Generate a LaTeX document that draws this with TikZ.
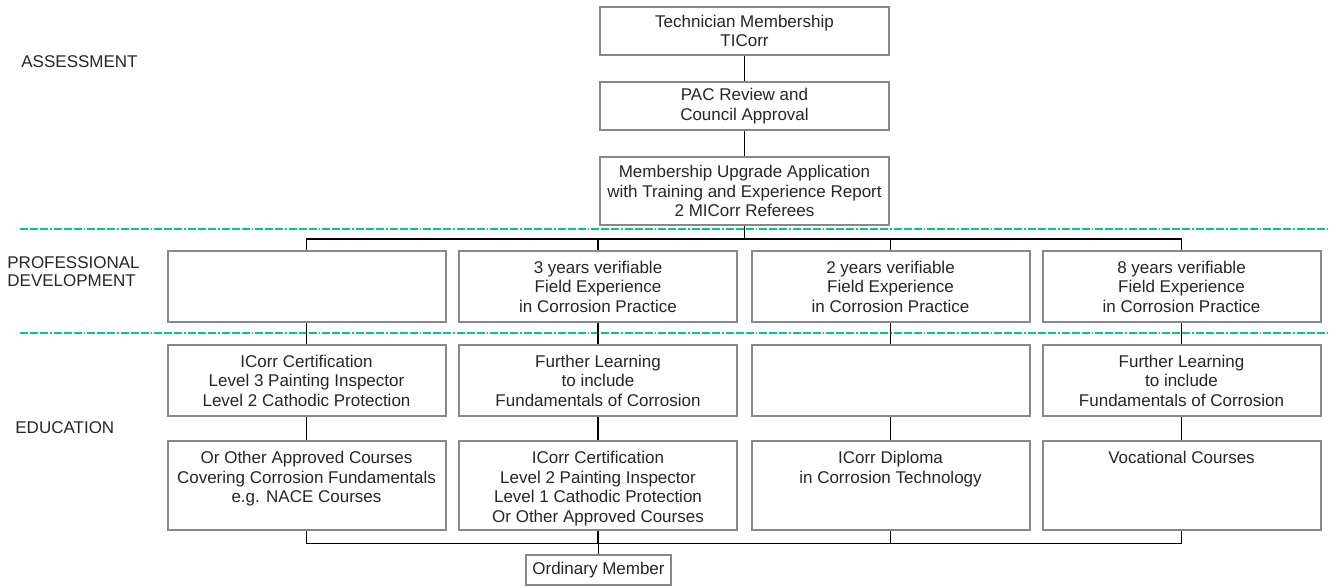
\documentclass[tikz,border=0pt]{standalone}
\usepackage{fontspec}
\setmainfont{Liberation Sans}
\usetikzlibrary{positioning}
\definecolor{sepgreen}{RGB}{0,200,140}
\definecolor{boxgray}{RGB}{136,136,136}

\begin{document}
\begin{tikzpicture}[x=0.5pt, y=-0.5pt,
		every node/.style={font=\fontsize{8.5}{9.75}\selectfont, text=black!85},
		box/.style={draw=boxgray, line width=1pt, fill=white, align=center, inner sep=0pt, minimum width=139pt},
		topbox/.style={box, minimum width=144.5pt, minimum height=24pt},
		colbox/.style={box, minimum height=35.5pt},
		lowbox/.style={box, minimum height=44.5pt},
		lowtext/.style={anchor=north, align=center, inner sep=0pt, yshift=-5.5pt},
		level/.style={anchor=west, align=left, inner sep=0pt, font=\fontsize{8.5}{8.7}\selectfont},
		conn/.style={draw=black, line width=0.6pt},
		sep/.style={draw=sepgreen, line width=0.6pt, dash pattern=on 4pt off 1pt on 4pt off 1pt on 4pt off 1pt on 0.8pt off 1pt}]
	\useasboundingbox (0, 0) rectangle (1329, 587);

	% levels
	\node[level] (lass) at (21, 62) {ASSESSMENT};
	\node[level] (lpro) at (7, 271.5) {PROFESSIONAL\\DEVELOPMENT};
	\node[level] (ledu) at (15, 428) {EDUCATION};

	\draw[sep] (20, 229) -- (1329, 229);
	\draw[sep] (20, 333) -- (1329, 333);

	% assessment
	\node[topbox] (tech) at (744.5, 31) {Technician Membership\\TICorr};
	\node[topbox] (pac) at (744.5, 106) {PAC Review and\\Council Approval};
	\node[topbox, minimum height=34pt] (upg) at (744.5, 191) {Membership Upgrade Application\\with Training and Experience Report\\2 MICorr Referees};

	% professional development
	\node[colbox] (pa) at (306.5, 286.5) {};
	\node[colbox] (pb) at (598, 286.5) {3 years verifiable\\Field Experience\\in Corrosion Practice};
	\node[colbox] (pc) at (890.5, 286.5) {2 years verifiable\\Field Experience\\in Corrosion Practice};
	\node[colbox] (pd) at (1181.5, 286.5) {8 years verifiable\\Field Experience\\in Corrosion Practice};

	% education
	\node[colbox] (ea) at (306.5, 380.5) {ICorr Certification\\Level 3 Painting Inspector\\Level 2 Cathodic Protection};
	\node[colbox] (eb) at (598, 380.5) {Further Learning\\to include\\Fundamentals of Corrosion};
	\node[colbox] (ec) at (890.5, 380.5) {};
	\node[colbox] (ed) at (1181.5, 380.5) {Further Learning\\to include\\Fundamentals of Corrosion};

	\node[lowbox] (ca) at (306.5, 485.5) {};
	\node[lowbox] (cb) at (598, 485.5) {};
	\node[lowbox] (cc) at (890.5, 485.5) {};
	\node[lowbox] (cd) at (1181.5, 485.5) {};
	\node[lowtext] (ta) at (ca.north) {Or Other Approved Courses\\Covering Corrosion Fundamentals\\e.g. NACE Courses};
	\node[lowtext] (tb) at (cb.north) {ICorr Certification\\Level 2 Painting Inspector\\Level 1 Cathodic Protection\\Or Other Approved Courses};
	\node[lowtext] (tc) at (cc.north) {ICorr Diploma\\in Corrosion Technology};
	\node[lowtext] (td) at (cd.north) {Vocational Courses};

	\node[box, minimum width=72.5pt, minimum height=15pt] (ord) at (598.5, 570) {Ordinary Member};

	% connectors
	\coordinate (topbus) at (744.5, 239);
	\coordinate (botbus) at (598.5, 543.5);
	\draw[conn] (tech) -- (pac);
	\draw[conn] (pac) -- (upg);
	\draw[conn] (upg) -- (topbus);
	\draw[conn] (pa.north) -- (pa.north |- topbus) -- (pd.north |- topbus) -- (pd.north);
	\draw[conn] (pb.north) -- (pb.north |- topbus);
	\draw[conn] (pc.north) -- (pc.north |- topbus);

	\draw[conn] (pa) -- (ea) -- (ca);
	\draw[conn] (pb) -- (eb) -- (cb);
	\draw[conn] (pc) -- (ec) -- (cc);
	\draw[conn] (pd) -- (ed) -- (cd);

	\draw[conn] (ca.south) -- (ca.south |- botbus) -- (cd.south |- botbus) -- (cd.south);
	\draw[conn] (cb.south) -- (cb.south |- botbus);
	\draw[conn] (cc.south) -- (cc.south |- botbus);
	\draw[conn] (botbus) -- (ord);
\end{tikzpicture}
\end{document}
